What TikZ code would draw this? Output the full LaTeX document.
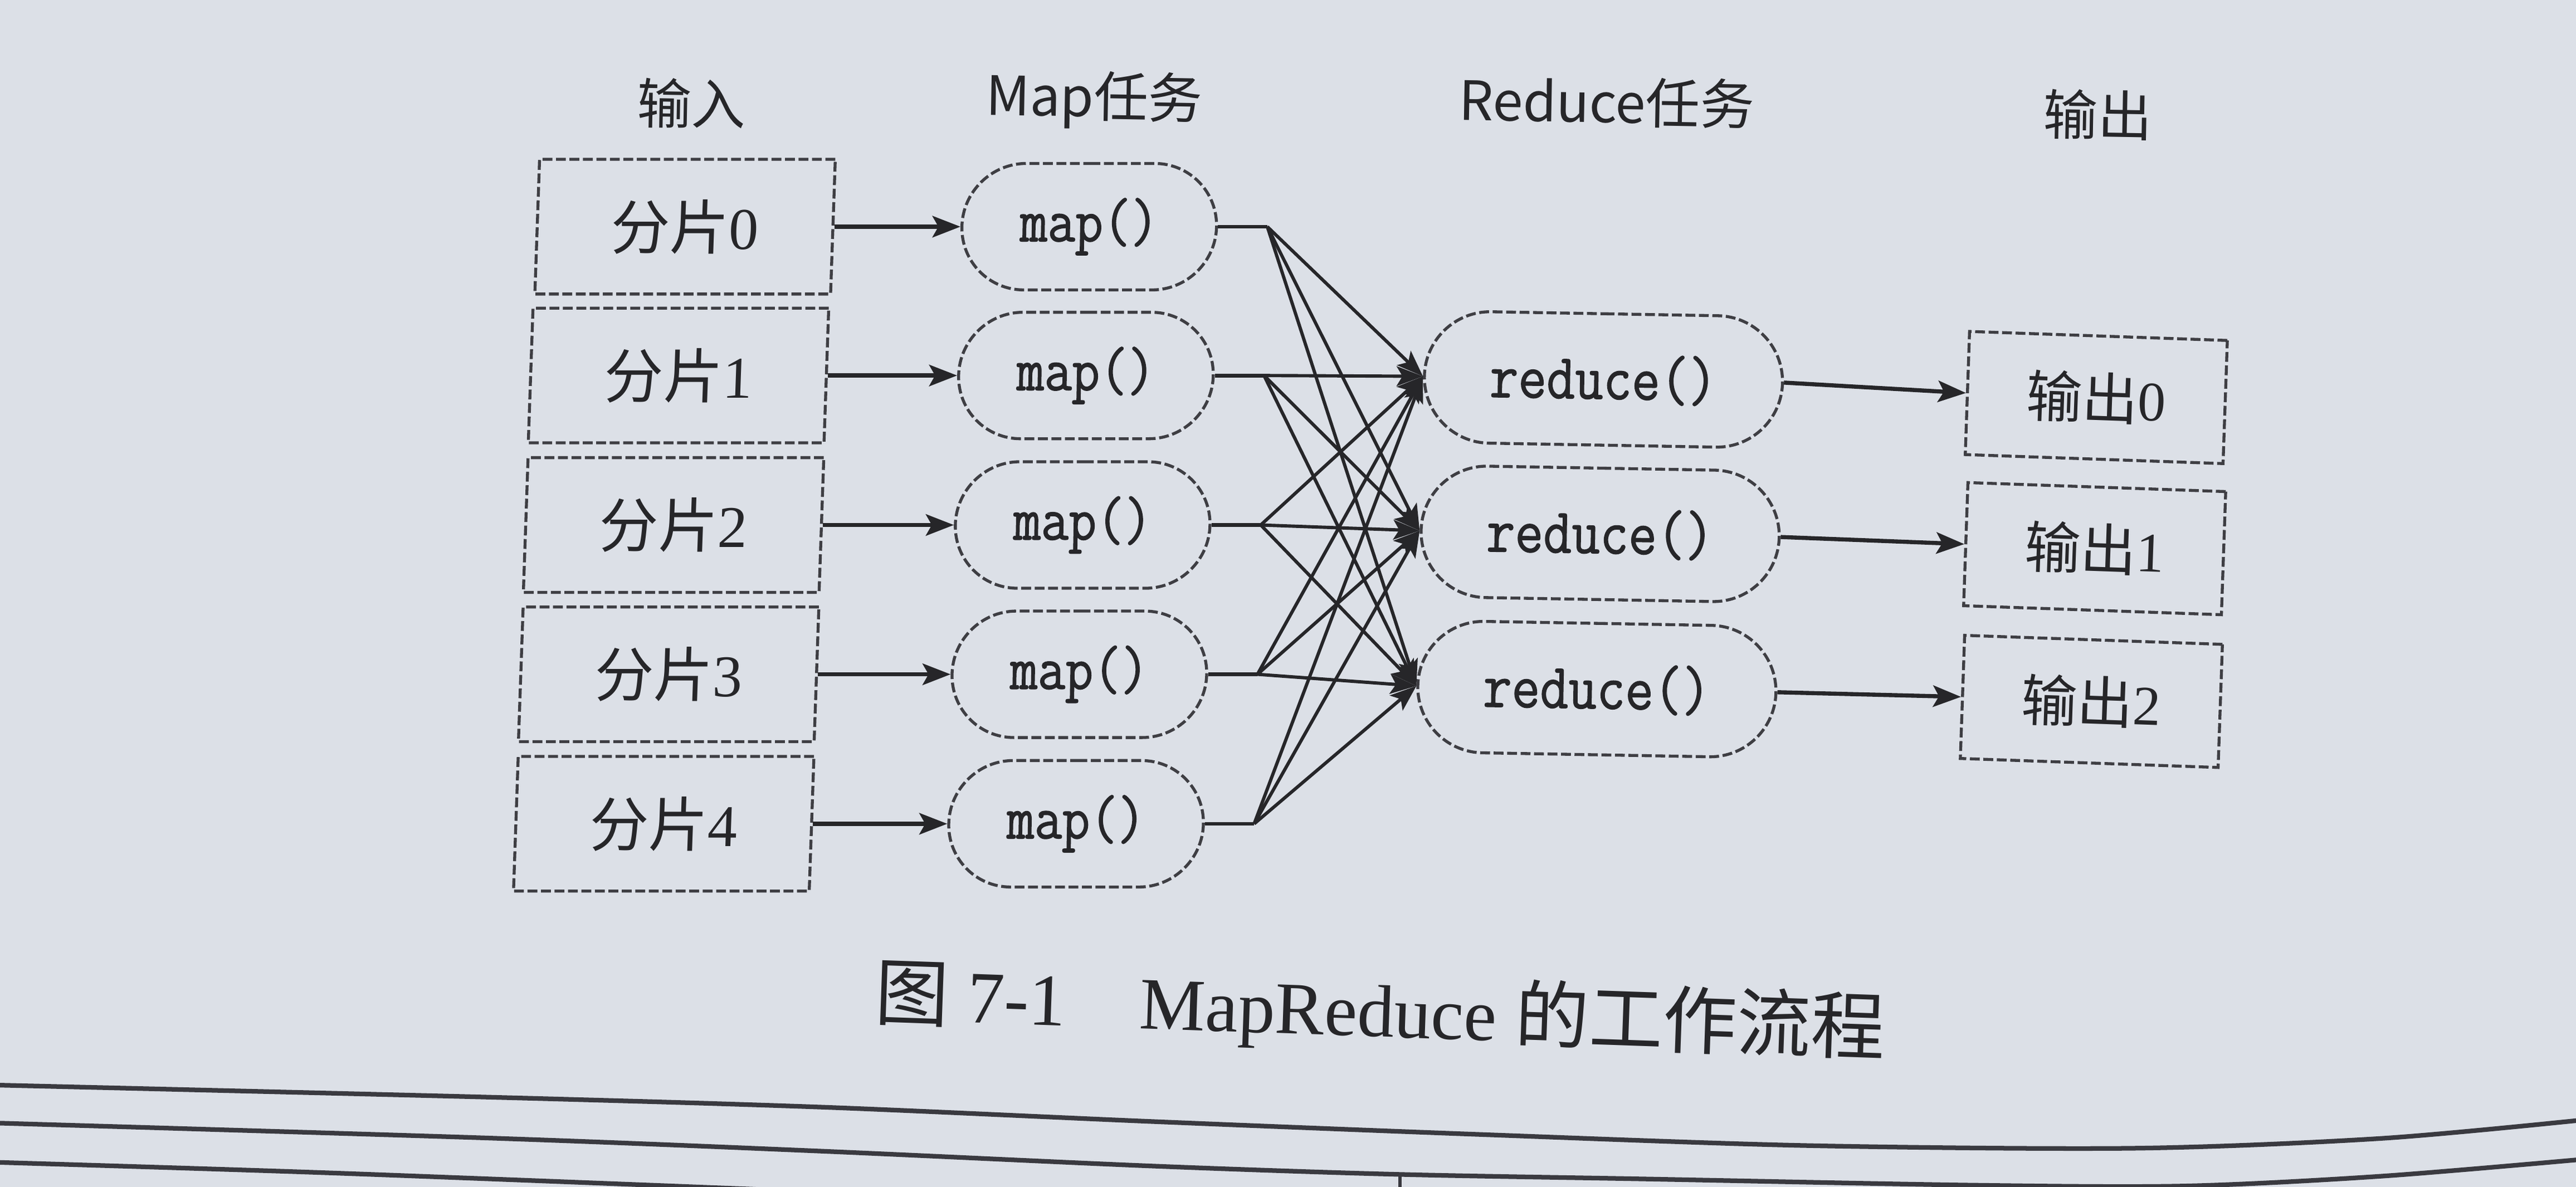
\documentclass[tikz,border=0pt]{standalone}
\usepackage{fontspec}
\setmainfont{Liberation Serif}
\newfontfamily\cjk{Noto Sans CJK SC}
\newfontfamily\codefont{Latin Modern Mono}[FakeStretch=0.86,FakeBold=1.2]
\usetikzlibrary{arrows.meta,shapes.misc,calc}
\definecolor{paper}{HTML}{DCE0E7}
\definecolor{ink}{HTML}{262629}
\definecolor{boxc}{HTML}{3E3E43}
\definecolor{pagec}{HTML}{3A3A40}
\begin{document}
\begin{tikzpicture}[x=0.5pt,y=-0.5pt,
  base/.style={draw=boxc,line width=0.9pt,dash pattern=on 3pt off 1.1pt,
    inner sep=0pt,text=ink},
  inbox/.style={base,rectangle,minimum width=90pt,minimum height=41pt,xslant=0.035,
    font=\fontsize{18pt}{20pt}\selectfont},
  outbox/.style={base,rectangle,minimum width=78.5pt,minimum height=37.5pt,rotate=-2,
    font=\fontsize{17pt}{19pt}\selectfont},
  mapnode/.style={base,rounded rectangle,minimum width=77.5pt,minimum height=38.5pt,
    xslant=0.02,font=\codefont\fontsize{19pt}{20pt}\selectfont},
  rednode/.style={base,rounded rectangle,minimum width=109pt,minimum height=40pt,
    rotate=-1,font=\codefont\fontsize{19.5pt}{20pt}\selectfont},
  header/.style={inner sep=0pt,rotate=-1,text=ink,
    font=\cjk\fontsize{16.5pt}{18pt}\selectfont},
  arr/.style={draw=ink,line width=1.25pt,-{Stealth[length=8.5pt,width=6.5pt,inset=1.8pt]}},
  stub/.style={draw=ink,line width=1.15pt},
  fan/.style={draw=ink,line width=1.0pt,-{Stealth[length=8pt,width=6pt,inset=1.8pt]}},
  pageline/.style={draw=pagec,line width=1.4pt},
]
\fill[paper] (0,0) rectangle (1568,722.6);
\useasboundingbox (0,0) rectangle (1568,722.6);

% page edge lines of the photographed book
\begin{scope}
\clip (0,0) rectangle (1568,722.6);
\draw[pageline] plot[smooth] coordinates {(-5,660.5) (300,668) (500,674) (700,682.7) (900,690.6) (1100,697.4) (1300,699) (1450,693) (1575,681.5)};
\draw[pageline] plot[smooth] coordinates {(-5,683.6) (300,692.9) (500,700.8) (700,709.8) (850,714.9) (1000,717.7) (1200,721.5) (1330,722) (1450,716) (1575,705.5)};
\draw[pageline] plot[smooth] coordinates {(-5,707.5) (200,714) (460,724)};
\draw[pagec,line width=1pt] (852,714) -- (852,723);
\end{scope}

% column headers
\node[header] (h1) at (421,63) {输入};
\node[header] (h2) at (666,61) {Map任务};
\node[header] (h3) at (978,62) {Reduce任务};
\node[header] (h4) at (1277,70) {输出};

% input splits
\node[inbox] (s0) at (417,138) {\cjk 分片\rmfamily 0};
\node[inbox] (s1) at (413,228.6) {\cjk 分片\rmfamily 1};
\node[inbox] (s2) at (410,319.6) {\cjk 分片\rmfamily 2};
\node[inbox] (s3) at (407,410.5) {\cjk 分片\rmfamily 3};
\node[inbox] (s4) at (404,501.5) {\cjk 分片\rmfamily 4};

% map tasks
\node[mapnode] (m0) at (663,138) {map()};
\node[mapnode] (m1) at (661,228.6) {map()};
\node[mapnode] (m2) at (659,319.6) {map()};
\node[mapnode] (m3) at (657,410.5) {map()};
\node[mapnode] (m4) at (655,501.5) {map()};

% reduce tasks
\node[rednode] (r0) at (976,231) {reduce()};
\node[rednode] (r1) at (974,325) {reduce()};
\node[rednode] (r2) at (972,419.5) {reduce()};

% outputs
\node[outbox] (o0) at (1276,242) {\cjk 输出\rmfamily 0};
\node[outbox] (o1) at (1275,334) {\cjk 输出\rmfamily 1};
\node[outbox] (o2) at (1273,427) {\cjk 输出\rmfamily 2};

% junctions after each map
\foreach \i in {0,...,4} {
  \coordinate (j\i) at ($(m\i.east)+(30,0)$);
}

% connectors
\foreach \i in {0,...,4} {
  \draw[arr] (s\i.east) -- (m\i.west);
  \draw[stub] (m\i.east) -- (j\i);
  \foreach \k in {0,1,2} {
    \draw[fan] (j\i) -- (r\k.west);
  }
}
\foreach \k in {0,1,2} {
  \draw[arr] (r\k.east) -- (o\k.west);
}

% caption
\node[inner sep=0pt,rotate=-2,text=ink,font=\fontsize{22.5pt}{24pt}\selectfont] (cap) at (840,617)
  {{\cjk 图}\ 7-1\quad MapReduce {\cjk 的工作流程}};
\end{tikzpicture}
\end{document}
